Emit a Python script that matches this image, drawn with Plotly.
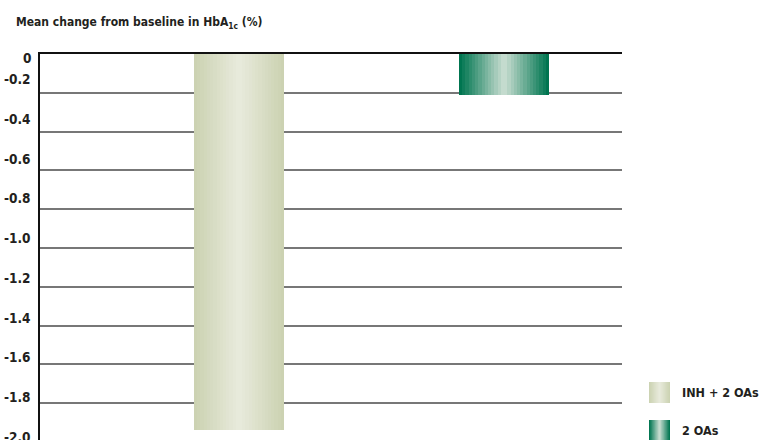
import plotly.graph_objects as go

# ---- data ----
categories = ["INH + 2 OAs", "2 OAs"]
values = [-1.94, -0.21]
tick_vals = [0, -0.2, -0.4, -0.6, -0.8, -1.0, -1.2, -1.4, -1.6, -1.8, -2.0]
tick_text = ["0", "-0.2", "-0.4", "-0.6", "-0.8", "-1.0", "-1.2", "-1.4", "-1.6", "-1.8", "-2.0"]
title_text = "Mean change from baseline in HbA<sub>1c</sub> (%)"

# ---- styles ----
W, H = 764, 440
ML, MR, MT, MB = 40, 142, 54, 0
PW, PH = W - ML - MR, H - MT - MB
Y_RANGE = [-PH / 194.0, 0]
FONT = "DejaVu Sans Condensed, Liberation Sans Narrow, sans-serif"
TXT = "#231f20"
edge_cols = [(204, 210, 178), (0, 117, 80)]
center_cols = [(231, 234, 219), (196, 219, 206)]
BAR_W = 0.34
N = 14


def mix(a, b, t):
    return "rgb(%d,%d,%d)" % tuple(round(a[i] + (b[i] - a[i]) * t) for i in range(3))


def px_x(px):
    return (px - ML) / PW


def px_y(py):
    return (H - MB - py) / PH


fig = go.Figure()
# gradient bars: overlapping bars of decreasing width
for k in range(N):
    t = k / (N - 1)
    w = BAR_W * (1 - k / N)
    fig.add_trace(go.Bar(
        x=categories, y=values, width=w,
        marker=dict(color=[mix(edge_cols[i], center_cols[i], t) for i in range(2)], line=dict(width=0)),
        showlegend=False, hoverinfo="skip" if k else "x+y",
    ))

annotations = [dict(
    text="<b>%s</b>" % title_text, xref="paper", yref="paper", x=px_x(14), y=px_y(23),
    xanchor="left", yanchor="middle", showarrow=False,
    font=dict(family=FONT, size=12, color=TXT),
)]
for v, s in zip(tick_vals, tick_text):
    label_px = 58 if v == 0 else 39.6 + 198.5 * abs(v)
    annotations.append(dict(
        text="<b>%s</b>" % s, xref="paper", yref="paper", x=px_x(33), y=px_y(label_px),
        xanchor="right", yanchor="middle", showarrow=False,
        font=dict(family=FONT, size=13.5, color=TXT),
    ))

# custom legend
shapes = []
leg_rows = [(382, 403), (420, 441)]
for i, (y0, y1) in enumerate(leg_rows):
    x0, x1 = 649, 670
    for k in range(N):
        t = k / (N - 1)
        half = (x1 - x0) / 2 * (1 - k / N)
        cx = (x0 + x1) / 2
        shapes.append(dict(
            type="rect", xref="paper", yref="paper",
            x0=px_x(cx - half), x1=px_x(cx + half), y0=px_y(y1), y1=px_y(y0),
            fillcolor=mix(edge_cols[i], center_cols[i], t), line=dict(width=0), layer="above",
        ))
    annotations.append(dict(
        text="<b>%s</b>" % categories[i], xref="paper", yref="paper",
        x=px_x(680), y=px_y((y0 + y1) / 2), xanchor="left", yanchor="middle",
        showarrow=False, font=dict(family=FONT, size=12.5, color=TXT),
    ))

fig.update_layout(
    width=W, height=H, margin=dict(l=ML, r=MR, t=MT, b=MB, pad=0),
    paper_bgcolor="white", plot_bgcolor="white",
    barmode="overlay", bargap=0, showlegend=False,
    annotations=annotations, shapes=shapes,
    xaxis=dict(range=[-0.751, 1.445], showticklabels=False, ticks="", showgrid=False,
               side="top", showline=True, linecolor="#111", linewidth=2, zeroline=False,
               fixedrange=True),
    yaxis=dict(range=Y_RANGE, tickvals=tick_vals, showticklabels=False, ticks="",
               showgrid=True, gridcolor="#777", gridwidth=1.5, zeroline=False,
               showline=True, linecolor="#111", linewidth=2, fixedrange=True),
)

fig.write_html("out.html", config={"displayModeBar": False},
               post_script="document.body.style.margin='0px';")
